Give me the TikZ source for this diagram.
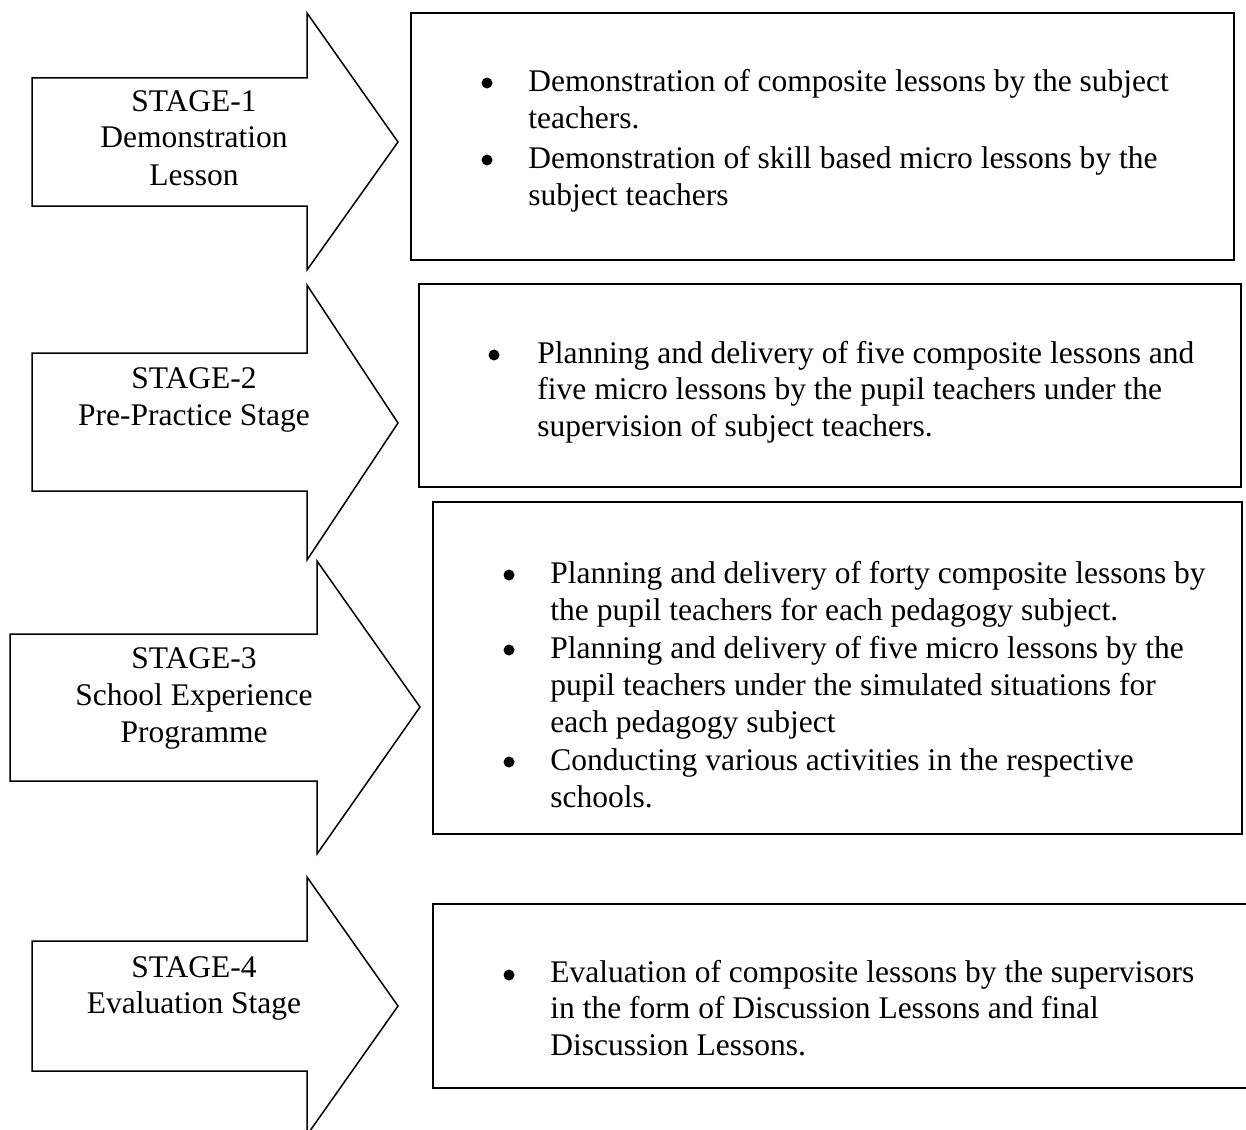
\documentclass[tikz,border=0pt]{standalone}
\usepackage{fontspec}
\setmainfont{Liberation Serif}
\begin{document}
\begin{tikzpicture}[x=0.5pt,y=-0.5pt,
  stagearrow/.style={draw=black, line width=0.75pt, fill=white, line join=miter},
  panel/.style={draw=black, line width=1pt, fill=white, rectangle, inner sep=0pt},
  lbl/.style={anchor=base, inner sep=0pt, font=\fontsize{15.75pt}{18.5pt}\selectfont},
  txt/.style={anchor=base west, inner sep=0pt, font=\fontsize{15.75pt}{18.5pt}\selectfont},
  dot/.style={circle, fill=black, draw=none, inner sep=0pt, minimum size=5.5pt}]
\useasboundingbox (0,0) rectangle (1246,1129);
\clip (0,0) rectangle (1246,1129);
\fill[white] (0,0) rectangle (1246,1129);

% stage arrows
\draw[stagearrow] (32,78) -- (307,78) -- (307,13) -- (398,142) -- (307,270) -- (307,206) -- (32,206) -- cycle;
\draw[stagearrow] (32,353) -- (307,353) -- (307,285) -- (398,423) -- (307,560) -- (307,491) -- (32,491) -- cycle;
\draw[stagearrow] (10,634) -- (317,634) -- (317,561) -- (420,707) -- (317,854) -- (317,781) -- (10,781) -- cycle;
\draw[stagearrow] (32,941) -- (307,941) -- (307,877) -- (398,1006) -- (307,1135) -- (307,1071) -- (32,1071) -- cycle;

% arrow labels
\node[lbl] (a1l1) at (194,112) {STAGE-1};
\node[lbl] (a1l2) at (194,148) {Demonstration};
\node[lbl] (a1l3) at (194,185) {Lesson};
\node[lbl] (a2l1) at (194,388) {STAGE-2};
\node[lbl] (a2l2) at (194,425) {Pre-Practice Stage};
\node[lbl] (a3l1) at (194,668) {STAGE-3};
\node[lbl] (a3l2) at (194,705) {School Experience};
\node[lbl] (a3l3) at (194,742) {Programme};
\node[lbl] (a4l1) at (194,977) {STAGE-4};
\node[lbl] (a4l2) at (194,1013) {Evaluation Stage};

% panels
\node[panel, minimum width=411.5pt, minimum height=123.5pt] (box1) at (822.5,136.5) {};
\node[panel, minimum width=411pt, minimum height=101.5pt] (box2) at (830,385.5) {};
\node[panel, minimum width=404.5pt, minimum height=166pt] (box3) at (837.5,668) {};
\node[panel, minimum width=411.5pt, minimum height=92pt] (box4) at (844.5,996) {};

% box 1
\node[dot] (b1d1) at (487,83) {};
\node[dot] (b1d2) at (487,160) {};
\node[txt] (b1t1) at (528,91) {Demonstration of composite lessons by the subject};
\node[txt] (b1t2) at (528,128) {teachers.};
\node[txt] (b1t3) at (528,168) {Demonstration of skill based micro lessons by the};
\node[txt] (b1t4) at (528,205) {subject teachers};

% box 2
\node[dot] (b2d1) at (494,355) {};
\node[txt] (b2t1) at (537,363) {Planning and delivery of five composite lessons and};
\node[txt] (b2t2) at (537,399) {five micro lessons by the pupil teachers under the};
\node[txt] (b2t3) at (537,436) {supervision of subject teachers.};

% box 3
\node[dot] (b3d1) at (509,575) {};
\node[dot] (b3d2) at (509,650) {};
\node[dot] (b3d3) at (509,762) {};
\node[txt] (b3t1) at (550,583) {Planning and delivery of forty composite lessons by};
\node[txt] (b3t2) at (550,620) {the pupil teachers for each pedagogy subject.};
\node[txt] (b3t3) at (550,658) {Planning and delivery of five micro lessons by the};
\node[txt] (b3t4) at (550,695) {pupil teachers under the simulated situations for};
\node[txt] (b3t5) at (550,732) {each pedagogy subject};
\node[txt] (b3t6) at (550,770) {Conducting various activities in the respective};
\node[txt] (b3t7) at (550,807) {schools.};

% box 4
\node[dot] (b4d1) at (509,975) {};
\node[txt] (b4t1) at (550,982) {Evaluation of composite lessons by the supervisors};
\node[txt] (b4t2) at (550,1018) {in the form of Discussion Lessons and final};
\node[txt] (b4t3) at (550,1055) {Discussion Lessons.};
\end{tikzpicture}
\end{document}
